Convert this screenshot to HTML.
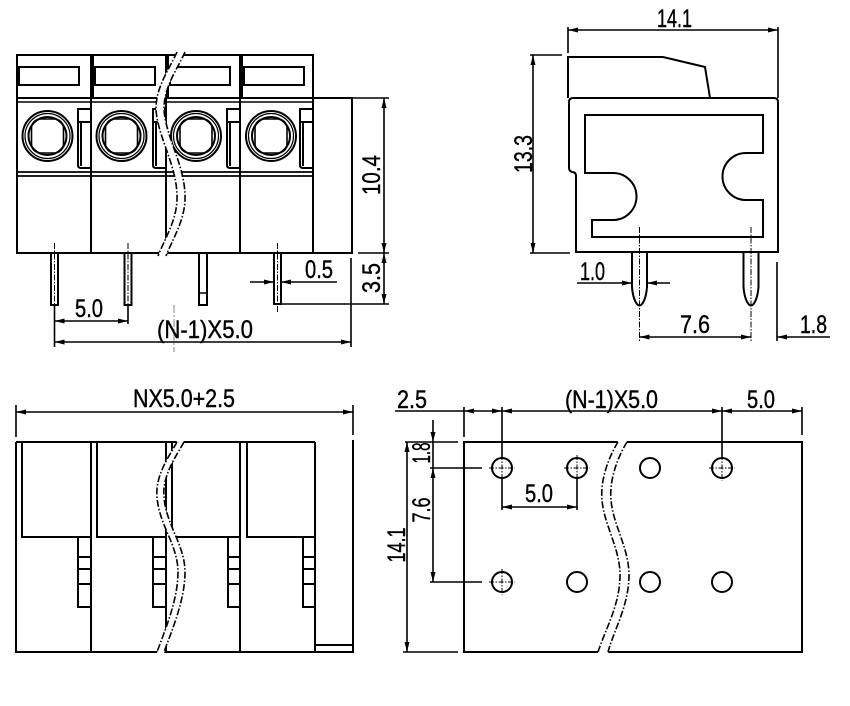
<!DOCTYPE html>
<html><head><meta charset="utf-8"><style>
html,body{margin:0;padding:0;background:#fff;}
svg{display:block}
text{font-family:"Liberation Sans",sans-serif;font-size:25px;fill:#000;stroke:#000;stroke-width:0.4}
</style></head><body>
<svg width="850" height="706" viewBox="0 0 850 706" xmlns="http://www.w3.org/2000/svg">
<rect x="0" y="0" width="850" height="706" fill="#fff"/>

<!-- ================= FRONT VIEW (top-left) ================= -->
<g fill="none" stroke="#000" stroke-width="2">
  <rect x="17" y="55" width="74" height="43"/>
  <rect x="93" y="55" width="73" height="43"/>
  <rect x="168" y="55" width="72" height="43"/>
  <rect x="242" y="55" width="71" height="43"/>
  <rect x="19" y="67" width="60" height="18"/>
  <rect x="95" y="67" width="60" height="18"/>
  <rect x="170" y="67" width="60" height="18"/>
  <rect x="244" y="67" width="60" height="18"/>
  <rect x="17" y="98" width="335" height="155"/>
  <path d="M313 98 V253 M91 98 V253 M166 98 V253 M240 98 V253"/>
  <path d="M17 102 H313" stroke-width="1.5"/>
  <path d="M17 172 H313 M17 176 H313" stroke-width="1.8"/>
  <g>
    <circle cx="47.5" cy="136" r="25"/><circle cx="47.5" cy="136" r="22.5" stroke-width="1.2"/><circle cx="47.5" cy="136" r="19"/>
    <rect x="31.5" y="119" width="32" height="34" rx="9" stroke-width="1.6"/>
    <circle cx="121.5" cy="136" r="25"/><circle cx="121.5" cy="136" r="22.5" stroke-width="1.2"/><circle cx="121.5" cy="136" r="19"/>
    <rect x="105.5" y="119" width="32" height="34" rx="9" stroke-width="1.6"/>
    <circle cx="196" cy="136" r="25"/><circle cx="196" cy="136" r="22.5" stroke-width="1.2"/><circle cx="196" cy="136" r="19"/>
    <rect x="180" y="119" width="32" height="34" rx="9" stroke-width="1.6"/>
    <circle cx="271" cy="136" r="25"/><circle cx="271" cy="136" r="22.5" stroke-width="1.2"/><circle cx="271" cy="136" r="19"/>
    <rect x="255" y="119" width="32" height="34" rx="9" stroke-width="1.6"/>
  </g>
  <path d="M91 109 H78 V165 Q78 168 81 168 H91 M78 122 H91 M81 122 V166"/>
  <path d="M166 109 H153 V165 Q153 168 156 168 H166 M153 122 H166 M156 122 V166"/>
  <path d="M240 109 H227 V165 Q227 168 230 168 H240 M227 122 H240 M230 122 V166"/>
  <path d="M313 109 H300 V165 Q300 168 303 168 H313 M300 122 H313 M303 122 V166"/>
  <rect x="51" y="253" width="7" height="52"/>
  <rect x="124.5" y="253" width="7" height="52"/>
  <rect x="199" y="253" width="8" height="52"/>
  <path d="M199 293 H207" stroke-width="1.5"/>
  <rect x="274" y="253" width="7" height="51"/>
</g>
<g fill="none" stroke="#000" stroke-width="1" stroke-dasharray="6 1.5 1.5 1.5">
  <path d="M54.5 243 V311 M128 243 V311 M277.5 243 V313"/>
</g>
<path d="M174 305 V352" stroke="#999" stroke-width="1.2" stroke-dasharray="8 2 2 2" fill="none"/>

<g fill="none" stroke="#000" stroke-width="1.6">
  <path d="M54.5 305 V347 M128 305 V324 M351 258 V347"/>
  <path d="M54.5 321 H128 M54.5 342 H351"/>
  <path d="M352 98 H389 M358 253 H389 M281 304 H389"/>
  <path d="M384 98 V304"/>
  <path d="M250 282 H274 M281 282 H337"/>
</g>
<g fill="#000" stroke="none">
  <polygon points="54.5,321 64.5,318.5 64.5,323.5"/><polygon points="128,321 118,318.5 118,323.5"/>
  <polygon points="54.5,342 64.5,339.5 64.5,344.5"/><polygon points="351,342 341,339.5 341,344.5"/>
  <polygon points="384,98 381.5,108 386.5,108"/><polygon points="384,253 381.5,243 386.5,243"/>
  <polygon points="384,253 381.5,263 386.5,263"/><polygon points="384,304 381.5,294 386.5,294"/>
  <polygon points="274,282 264,279.5 264,284.5"/><polygon points="281,282 291,279.5 291,284.5"/>
</g>
<text x="89" y="317" text-anchor="middle" textLength="28" lengthAdjust="spacingAndGlyphs">5.0</text>
<text x="205" y="338" text-anchor="middle" textLength="96" lengthAdjust="spacingAndGlyphs">(N-1)X5.0</text>
<text x="319" y="278" text-anchor="middle" textLength="28" lengthAdjust="spacingAndGlyphs">0.5</text>
<text transform="translate(380,175) rotate(-90)" text-anchor="middle" textLength="40" lengthAdjust="spacingAndGlyphs">10.4</text>
<text transform="translate(380,278) rotate(-90)" text-anchor="middle" textLength="30" lengthAdjust="spacingAndGlyphs">3.5</text>

<path d="M177 50 C168 72, 152 92, 157 118 C162 145, 178 170, 177 200 C176 222, 165 238, 158 256 L166 256 C173 238, 184 222, 185 200 C186 170, 170 145, 165 118 C160 92, 176 72, 185 50 Z" fill="#fff" stroke="none"/>
<g fill="none" stroke="#000" stroke-width="1.6" stroke-dasharray="7 2 1.5 2">
  <path d="M177 52 C168 72, 152 92, 157 118 C162 145, 178 170, 177 200 C176 222, 165 238, 158 256"/>
  <path d="M185 52 C176 72, 160 92, 165 118 C170 145, 186 170, 185 200 C184 222, 173 238, 166 256"/>
</g>

<!-- ================= SIDE VIEW (top-right) ================= -->
<g fill="none" stroke="#000" stroke-width="2">
  <path d="M568 98 V57 H663 L705 67 L710 98"/>
  <path d="M576 252 V176 Q576 172 572 172 Q569 171 569 168 V102 Q569 98 573 98 H774 Q778 98 778 102 V252 Z"/>
  <path d="M585 115 H763 V153 H746 A23.5 23.5 0 0 0 746 200 H763 V237 H592 V220 H613 A23.5 23.5 0 0 0 613 173 H585 Z"/>
  <path d="M632 252 V287 Q633 299 637 304 Q639.5 307 642 304 Q646 299 647 287 V252"/>
  <path d="M743.5 252 V287 Q744.5 299 748.5 304 Q751 307 753.5 304 Q757.5 299 758.5 287 V252"/>
</g>
<g fill="none" stroke="#000" stroke-width="1" stroke-dasharray="6 1.5 1.5 1.5">
  <path d="M639.5 227 V341 M751 227 V341"/>
</g>
<g fill="none" stroke="#000" stroke-width="1.6">
  <path d="M568 27 V53 M778 27 V98"/>
  <path d="M568 30 H778"/>
  <path d="M530 55 H562 M530 253 H570"/>
  <path d="M533 55 V253"/>
  <path d="M577 283 H632 M647 283 H670"/>
  <path d="M639.5 337 H751"/>
  <path d="M777 262 V341 M777 337 H830"/>
</g>
<g fill="#000" stroke="none">
  <polygon points="568,30 578,27.5 578,32.5"/><polygon points="778,30 768,27.5 768,32.5"/>
  <polygon points="533,55 530.5,65 535.5,65"/><polygon points="533,253 530.5,243 535.5,243"/>
  <polygon points="632,283 622,280.5 622,285.5"/><polygon points="647,283 657,280.5 657,285.5"/>
  <polygon points="639.5,337 649.5,334.5 649.5,339.5"/><polygon points="751,337 741,334.5 741,339.5"/>
  <polygon points="777,337 787,334.5 787,339.5"/>
</g>
<text x="674.5" y="27" text-anchor="middle" textLength="35" lengthAdjust="spacingAndGlyphs">14.1</text>
<text x="592.5" y="280" text-anchor="middle" textLength="25" lengthAdjust="spacingAndGlyphs">1.0</text>
<text x="695" y="333" text-anchor="middle" textLength="30" lengthAdjust="spacingAndGlyphs">7.6</text>
<text x="813.5" y="333" text-anchor="middle" textLength="27" lengthAdjust="spacingAndGlyphs">1.8</text>
<text transform="translate(532,154) rotate(-90)" text-anchor="middle" textLength="38" lengthAdjust="spacingAndGlyphs">13.3</text>

<!-- ================= TOP VIEW (bottom-left) ================= -->
<g fill="none" stroke="#000" stroke-width="2">
  <path d="M16 442 H315 M16 442 V652 H353 V440 M315 442 V652 M315 645 H353"/>
  <path d="M91 442 V652 M166 442 V652 M240 442 V652"/>
  <path d="M22 442 V537 H91 M97 442 V537 H166 M172 442 V537 H240 M247 442 V537 H315"/>
  <path d="M78 537 V607 H91 M78 557 H91 M78 569 H91 M78 584 H91"/>
  <path d="M153 537 V607 H166 M153 557 H166 M153 569 H166 M153 584 H166"/>
  <path d="M228 537 V607 H240 M228 557 H240 M228 569 H240 M228 584 H240"/>
  <path d="M303 537 V607 H315 M303 557 H315 M303 569 H315 M303 584 H315"/>
</g>
<g fill="none" stroke="#000" stroke-width="1.6">
  <path d="M16 405 V437 M353 405 V435"/>
  <path d="M16 412 H353"/>
</g>
<g fill="#000" stroke="none">
  <polygon points="16,412 26,409.5 26,414.5"/><polygon points="353,412 343,409.5 343,414.5"/>
</g>
<text x="184" y="407" text-anchor="middle" textLength="102" lengthAdjust="spacingAndGlyphs">NX5.0+2.5</text>
<path d="M177 441 C170 455, 155 475, 157 497 C159 525, 178 545, 178 572 C178 600, 165 630, 157 653 L164 653 C172 630, 185 600, 185 572 C185 545, 166 525, 164 497 C162 475, 177 455, 184 441 Z" fill="#fff" stroke="none"/>
<g fill="none" stroke="#000" stroke-width="1.6" stroke-dasharray="7 2 1.5 2">
  <path d="M177 442 C170 455, 155 475, 157 497 C159 525, 178 545, 178 572 C178 600, 165 630, 157 652"/>
  <path d="M184 442 C177 455, 162 475, 164 497 C166 525, 185 545, 185 572 C185 600, 172 630, 164 652"/>
</g>

<!-- ================= BOTTOM VIEW (bottom-right) ================= -->
<g fill="none" stroke="#000" stroke-width="2">
  <path d="M618 442 H464 V652 H598 M608 652 H802 V442 H627"/>
  <circle cx="502" cy="468" r="10"/><circle cx="577" cy="468" r="10"/><circle cx="650" cy="468" r="10"/><circle cx="722" cy="468" r="10"/>
  <circle cx="502" cy="582" r="10"/><circle cx="577" cy="582" r="10"/><circle cx="650" cy="582" r="10"/><circle cx="722" cy="582" r="10"/>
</g>
<g fill="none" stroke="#000" stroke-width="1" stroke-dasharray="5 1.5 1.5 1.5">
  <path d="M489 468 H515 M502 455 V481 M564 468 H590 M577 455 V481 M709 468 H735 M722 455 V481 M489 582 H515 M502 569 V595"/>
</g>
<path d="M618 441 C610 455, 600 478, 602 500 C604 525, 620 548, 620 575 C620 605, 605 630, 598 653 L608 653 C615 630, 629 605, 629 575 C629 548, 613 525, 611 500 C609 478, 619 455, 627 441 Z" fill="#fff" stroke="none"/>
<g fill="none" stroke="#000" stroke-width="1.6" stroke-dasharray="7 2 1.5 2">
  <path d="M618 442 C610 455, 600 478, 602 500 C604 525, 620 548, 620 575 C620 605, 605 630, 598 652"/>
  <path d="M627 442 C619 455, 609 478, 611 500 C613 525, 629 548, 629 575 C629 605, 614 630, 608 652"/>
</g>
<g fill="none" stroke="#000" stroke-width="1.6">
  <path d="M395 411 H802"/>
  <path d="M464 407 V437 M502 407 V457 M722 407 V457 M802 407 V435"/>
  <path d="M502 479 V510 M577 479 V510 M502 507 H577"/>
  <path d="M405 442 H458 M403 652 H458 M407 442 V652"/>
  <path d="M433 420 V582 M430 468 H482 M430 582 H482"/>
</g>
<g fill="#000" stroke="none">
  <polygon points="464,411 474,408.5 474,413.5"/><polygon points="502,411 492,408.5 492,413.5"/>
  <polygon points="502,411 512,408.5 512,413.5"/><polygon points="722,411 712,408.5 712,413.5"/>
  <polygon points="722,411 732,408.5 732,413.5"/><polygon points="802,411 792,408.5 792,413.5"/>
  <polygon points="502,507 512,504.5 512,509.5"/><polygon points="577,507 567,504.5 567,509.5"/>
  <polygon points="407,442 404.5,452 409.5,452"/><polygon points="407,652 404.5,642 409.5,642"/>
  <polygon points="433,442 430.5,432 435.5,432"/><polygon points="433,468 430.5,478 435.5,478"/>
  <polygon points="433,582 430.5,572 435.5,572"/>
</g>
<text x="412" y="408" text-anchor="middle" textLength="30" lengthAdjust="spacingAndGlyphs">2.5</text>
<text x="611.5" y="408" text-anchor="middle" textLength="93" lengthAdjust="spacingAndGlyphs">(N-1)X5.0</text>
<text x="761" y="408" text-anchor="middle" textLength="28" lengthAdjust="spacingAndGlyphs">5.0</text>
<text x="539" y="502" text-anchor="middle" textLength="28" lengthAdjust="spacingAndGlyphs">5.0</text>
<text transform="translate(405,545) rotate(-90)" text-anchor="middle" textLength="35" lengthAdjust="spacingAndGlyphs">14.1</text>
<text transform="translate(430,453) rotate(-90)" text-anchor="middle" textLength="21" lengthAdjust="spacingAndGlyphs">1.8</text>
<text transform="translate(430,510) rotate(-90)" text-anchor="middle" textLength="25" lengthAdjust="spacingAndGlyphs">7.6</text>
</svg>
</body></html>
